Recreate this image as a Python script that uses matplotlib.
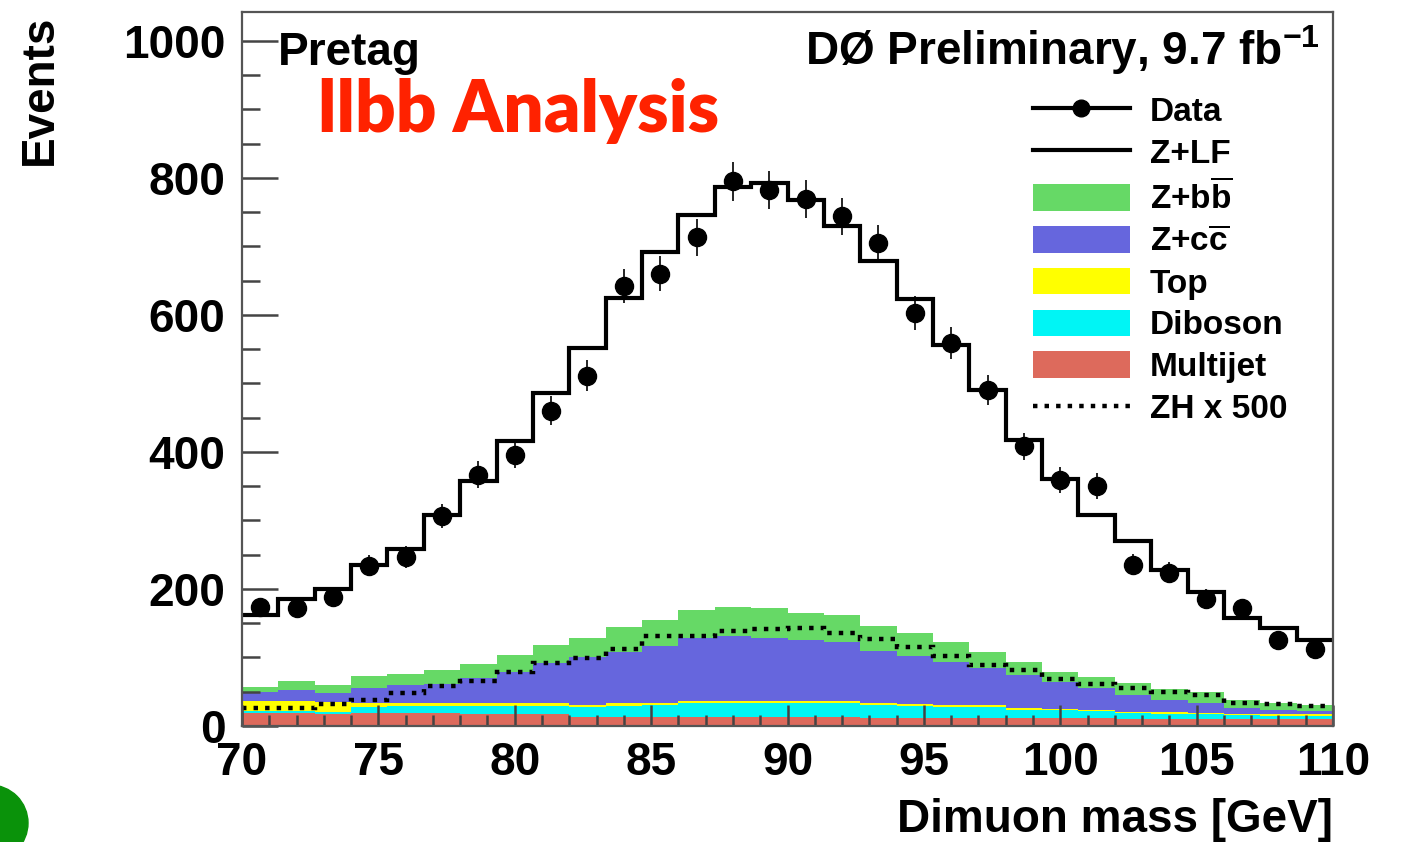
import numpy as np
import matplotlib
matplotlib.use("Agg")
import matplotlib.pyplot as plt
from matplotlib.lines import Line2D
from matplotlib.patches import Patch, Ellipse

plt.rcParams['font.family'] = ['Liberation Sans', 'DejaVu Sans']
plt.rcParams['font.weight'] = 'bold'
plt.rcParams['mathtext.fontset'] = 'custom'
plt.rcParams['mathtext.rm'] = 'Liberation Sans:bold'
plt.rcParams['mathtext.bf'] = 'Liberation Sans:bold'

# Dimuon mass, 30 bins from 70 to 110 GeV
edges = np.linspace(70, 110, 31)
centers = 0.5 * (edges[1:] + edges[:-1])

data = [174, 172, 188, 234, 247, 306, 367, 396, 460, 511,
        642, 660, 713, 795, 782, 769, 744, 705, 603, 559,
        490, 408, 359, 350, 235, 224, 186, 172, 126, 113]

# stacked backgrounds (bottom to top)
multijet = [19, 19, 18, 19, 19, 19, 18, 18, 17, 13,
            13, 13, 13, 13, 13, 13, 13, 12, 12, 12,
            12, 11, 11, 11, 10, 10, 10, 10, 10, 10]
diboson = [3, 3, 3, 8, 10, 10, 11, 11, 12, 14,
           16, 17, 20, 21, 21, 21, 20, 18, 17, 16,
           15, 13, 12, 11, 9, 8, 7, 6, 5, 5]
top = [14, 15, 14, 6, 5, 5, 5, 5, 4, 4,
       4, 4, 3, 3, 3, 3, 3, 3, 3, 3,
       3, 2, 2, 2, 2, 2, 2, 2, 2, 2]
zcc = [14, 16, 13, 23, 26, 28, 36, 45, 59, 70,
       75, 83, 93, 95, 92, 89, 87, 77, 70, 63,
       54, 48, 39, 31, 24, 18, 14, 8, 7, 5]
zbb = [7, 12, 12, 17, 16, 19, 21, 25, 26, 28,
       36, 38, 40, 41, 43, 39, 39, 36, 34, 28,
       24, 20, 15, 17, 18, 16, 16, 12, 9, 9]
zlf = [105, 120, 140, 162, 183, 227, 266, 312, 368, 422,
       481, 537, 577, 613, 620, 603, 567, 532, 487, 434,
       382, 323, 281, 236, 207, 174, 147, 119, 110, 94]

zh500 = [26, 26, 32, 38, 48, 59, 65, 79, 92, 99,
         113, 131, 131, 138, 142, 143, 135, 127, 115, 102,
         89, 81, 68, 61, 56, 50, 45, 34, 32, 29]

names = ['Multijet', 'Diboson', 'Top', r'Z+c$\overline{\mathrm{c}}$',
         r'Z+b$\overline{\mathrm{b}}$', 'Z+LF']
colors = ['#dd6a5c', '#00f5f5', '#ffff00', '#6666dd', '#66d966', 'white']
comps = [multijet, diboson, top, zcc, zbb, zlf]

fig = plt.figure(figsize=(14.02, 8.42), dpi=100)
ax = fig.add_axes([242/1402, 1-726/842, 1091/1402, 714/842])

base = np.zeros(30)
for vals, col in zip(comps, colors):
    vals = np.array(vals, dtype=float)
    ax.stairs(base + vals, edges, baseline=base, fill=True, color=col, lw=0)
    base = base + vals

ax.stairs(base, edges, baseline=None, color='black', lw=3)
ax.stairs(zh500, edges, baseline=None, color='black', lw=3.2, ls=(0, (1, 1.6)))
ax.errorbar(centers, data, yerr=np.sqrt(data), fmt='o', color='black',
            ms=13, elinewidth=1.2, capsize=0)

ax.set_xlim(70, 110)
ax.set_ylim(0, 1042)
ax.set_xticks(np.arange(70, 111, 5))
ax.set_xticks(np.arange(70, 111, 1), minor=True)
ax.set_yticks(np.arange(0, 1001, 200))
ax.set_yticks(np.arange(0, 1001, 50), minor=True)
ax.tick_params(axis='both', which='both', direction='in', top=False, right=False,
               colors='#444444', labelcolor='black', width=1.8)
ax.tick_params(axis='y', which='major', length=26, pad=12)
ax.tick_params(axis='y', which='minor', length=13)
ax.tick_params(axis='x', which='major', length=15, pad=11)
ax.tick_params(axis='x', which='minor', length=8)
for lab in ax.get_xticklabels() + ax.get_yticklabels():
    lab.set_fontsize(33)
    lab.set_fontweight('bold')
for sp in ax.spines.values():
    sp.set_color('#555555')
    sp.set_linewidth(1.6)

# annotations
fig.text(278/1402, 1-65/842, 'Pretag', fontsize=33, ha='left', va='baseline')
fig.text(805/1402, 1-65/842, r'DØ Preliminary, 9.7 fb$^{-1}$', fontsize=33,
         ha='left', va='baseline')
fig.text(318/1402, 1-132/842, 'llbb Analysis', fontsize=51, fontweight='heavy',
         family=['Lato', 'DejaVu Sans'], color='#ff2200', ha='left', va='baseline')
fig.text(40/1402, 1-15/842, 'Events', fontsize=33, rotation=90, ha='center', va='top')
fig.text(1333/1402, 1-832/842, 'Dimuon mass [GeV]', fontsize=33, ha='right', va='baseline')

# legend
handles = [Line2D([], [], color='black', lw=3, marker='o', ms=12),
           Line2D([], [], color='black', lw=3),
           Patch(facecolor=colors[4], lw=0),
           Patch(facecolor=colors[3], lw=0),
           Patch(facecolor=colors[2], lw=0),
           Patch(facecolor=colors[1], lw=0),
           Patch(facecolor=colors[0], lw=0),
           Line2D([], [], color='black', lw=3.2, ls=(0, (1, 1.6)))]
labels = ['Data', 'Z+LF', names[4], names[3], 'Top', 'Diboson', 'Multijet', 'ZH x 500']
leg = fig.legend(handles, labels, loc='upper left', bbox_to_anchor=(1033/1402, 1-96/842),
                 frameon=False, prop={'size': 24, 'weight': 'bold'}, borderpad=0,
                 handlelength=2.9, handleheight=0.85, handletextpad=0.6, labelspacing=0.3,
                 borderaxespad=0)

# green blob in the lower left corner of the slide
fig.add_artist(Ellipse((-10/1402, 1-823/842), 76/1402, 76/842,
                       transform=fig.transFigure, color='#0a920a', clip_on=False))

fig.savefig('out.png', dpi=100)
